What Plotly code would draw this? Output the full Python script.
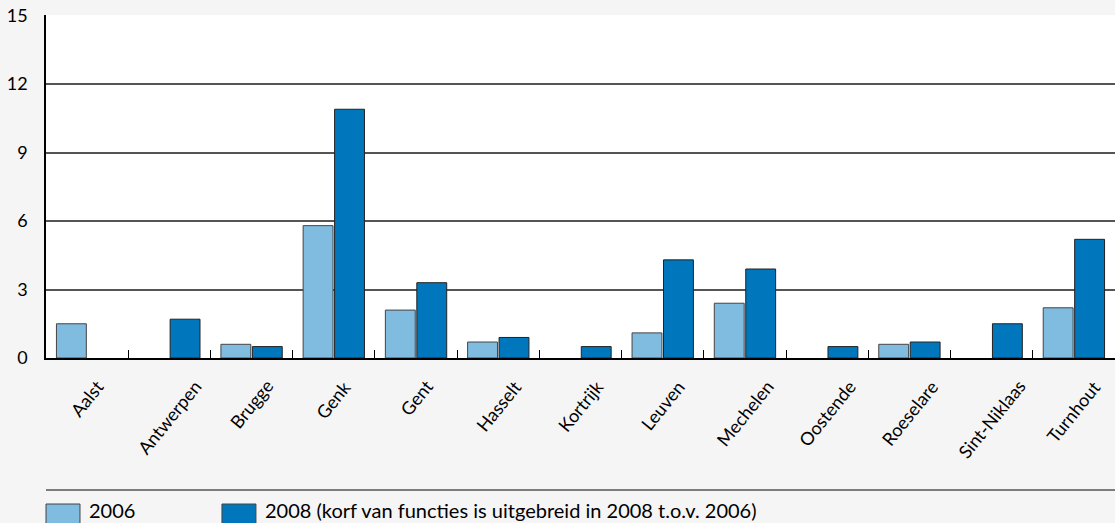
import plotly.graph_objects as go

steden = ['Aalst', 'Antwerpen', 'Brugge', 'Genk', 'Gent', 'Hasselt', 'Kortrijk',
          'Leuven', 'Mechelen', 'Oostende', 'Roeselare', 'Sint-Niklaas', 'Turnhout']
# None = geen balk in de grafiek
waarden_2006 = [1.5, None, 0.6, 5.8, 2.1, 0.7, None, 1.1, 2.4, None, 0.6, None, 2.2]
waarden_2008 = [None, 1.7, 0.5, 10.9, 3.3, 0.9, 0.5, 4.3, 3.9, 0.5, 0.7, 1.5, 5.2]
y_ticks = [0, 3, 6, 9, 12, 15]
reeksen = ['2006', '2008 (korf van functies is uitgebreid in 2008 t.o.v. 2006)']
kleuren = ['#80BBE0', '#0077BD']

font = "Lato, Open Sans, sans-serif"

fig = go.Figure()
fig.add_trace(go.Bar(x=steden, y=waarden_2006, name=reeksen[0],
                     marker=dict(color=kleuren[0], line=dict(color='#444444', width=1))))
fig.add_trace(go.Bar(x=steden, y=waarden_2008, name=reeksen[1],
                     marker=dict(color=kleuren[1], line=dict(color='#222222', width=1))))

# x-labels: gecentreerd onder elke categorie, schuin gedraaid
annotations = [dict(x=s, y=0, xref='x', yref='y', text=s, textangle=-51,
                    showarrow=False, xanchor='center', yanchor='top', yshift=-15,
                    font=dict(size=18)) for s in steden]

# handmatige legenda onderaan
shapes = [dict(type='line', xref='paper', yref='paper', x0=0, x1=1.0,
               y0=-0.3848, y1=-0.3848, line=dict(color='#555555', width=1.5))]
legend_x = [0.0, 0.1646]
for i, naam in enumerate(reeksen):
    x0 = legend_x[i]
    shapes.append(dict(type='rect', xref='paper', yref='paper',
                       x0=x0, x1=x0 + 0.0318, y0=-0.51, y1=-0.4257,
                       fillcolor=kleuren[i], line=dict(color='#444444', width=1)))
    annotations.append(dict(x=x0 + 0.0385, y=-0.442, xref='paper', yref='paper',
                            text=naam, showarrow=False, xanchor='left', yanchor='middle',
                            font=dict(size=20)))

fig.update_layout(
    width=1115, height=523,
    margin=dict(l=46, r=0, t=15, b=165, autoexpand=False),
    paper_bgcolor='#F5F5F5',
    plot_bgcolor='white',
    font=dict(family=font, size=18, color='black'),
    barmode='group',
    bargap=0.235,
    bargroupgap=0.05,
    showlegend=False,
    annotations=annotations,
    shapes=shapes,
)

fig.update_xaxes(
    showline=True, linecolor='black', linewidth=1.5, automargin=False,
    ticks='inside', tickson='boundaries', ticklen=8, tickcolor='black',
    showticklabels=False, showgrid=False, range=[-0.5, 12.5],
)
fig.update_yaxes(
    range=[0, 15.03], tickvals=y_ticks, showgrid=True, gridcolor='#555555', gridwidth=1.5,
    showline=True, linecolor='black', linewidth=1.5, zeroline=False, automargin=False,
    ticks='', tickfont=dict(size=18), ticklabelstandoff=13,
)

fig.write_html("out.html", config={'displayModeBar': False},
               post_script="document.body.style.margin='0';")
